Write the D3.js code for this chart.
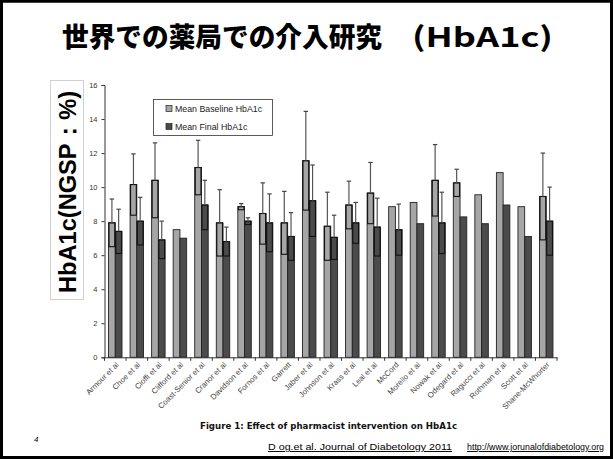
<!DOCTYPE html>
<html><head><meta charset="utf-8">
<script src="https://cdn.jsdelivr.net/npm/d3@7/dist/d3.min.js"></script>
<style>html,body{margin:0;padding:0;background:#fff;}svg{display:block;}</style>
</head><body>
<svg id="c" width="613" height="459"></svg>
<script>
const categories = ["Armour et al","Choe et al","Cioffi et al","Clifford et al","Coast-Senior et al","Cranor et al","Davidson et al","Fornos et al","Garrett","Jaber et al","Johnson et al","Krass et al","Leal et al","McCord","Morello et al","Nowak et al","Odegard et al","Ragucci et al","Rothman et al","Scott et al","Shane-McWhorter"];
const baseline   = [7.9,10.15,10.4,7.5,11.15,7.9,8.85,8.45,7.9,11.55,7.7,8.95,9.65,8.85,9.1,10.4,10.25,9.55,10.85,8.85,9.45];
const baselineSD = [1.4,1.8,2.2,null,1.6,1.95,0.18,1.8,1.85,2.9,2.0,1.4,1.8,null,null,2.1,0.8,null,null,null,2.55];
const finalV     = [7.4,8.0,6.9,7.0,8.95,6.8,8.0,7.9,7.1,9.2,7.05,7.9,7.65,7.5,7.85,7.9,8.25,7.85,8.95,7.1,8.0];
const finalSD    = [1.3,1.4,1.1,null,1.45,0.85,0.2,1.7,1.4,2.1,1.3,1.2,1.7,1.5,null,1.8,null,null,null,null,2.0];
const seriesNames = ["Mean Baseline HbA1c","Mean Final HbA1c"];
const yTicks = [0,2,4,6,8,10,12,14,16];

const svg = d3.select("#c");
svg.append("rect").attr("x",1.5).attr("y",1).attr("width",610).attr("height",456.5)
  .attr("fill","#fff").attr("stroke","#000").attr("stroke-width",3);

// Title
svg.append("text").attr("x",62).attr("y",47).attr("font-family","'Noto Sans CJK JP'").attr("font-weight","900")
  .attr("font-size",27).attr("textLength",320).attr("lengthAdjust","spacingAndGlyphs").text("世界での薬局での介入研究");
svg.append("text").attr("x",412).attr("y",47).attr("font-family","'Noto Sans CJK JP'").attr("font-weight","bold")
  .attr("font-size",27).attr("textLength",141).attr("lengthAdjust","spacingAndGlyphs").text("(HbA1c)");

// Y label box
svg.append("rect").attr("x",50.5).attr("y",80.5).attr("width",33).attr("height",219).attr("fill","#fff").attr("stroke","#d0d0d0");
svg.append("text").attr("transform","translate(76,192) rotate(-90)").attr("text-anchor","middle")
  .attr("font-family","'Liberation Sans',Arial").attr("font-weight","bold").attr("font-size",23)
  .attr("textLength",202).attr("lengthAdjust","spacingAndGlyphs").text("HbA1c(NGSP：%)");

const x = d3.scaleBand().domain(categories).range([104.5,557]).padding(0);
const inner = d3.scaleBand().domain(seriesNames).range([0,x.bandwidth()]).paddingOuter(0.6).paddingInner(0);
const y = d3.scaleLinear().domain([0,16]).range([357.3,85]);
const fills = ["#a6a6a6","#4b4b4b"];

const g = svg.append("g");
// Y axis
const ya = g.append("g").attr("transform","translate(104.5,0)")
  .call(d3.axisLeft(y).tickValues(yTicks).tickSize(3).tickPadding(4));
ya.select(".domain").attr("stroke","#333");
ya.selectAll(".tick line").attr("stroke","#333");
ya.selectAll("text").attr("font-family","'Liberation Sans',Arial").attr("font-size",7.5).attr("fill","#333");

// Bars
const data = categories.map((c,i)=>[
  {c, s:seriesNames[0], v:baseline[i], sd:baselineSD[i], k:0},
  {c, s:seriesNames[1], v:finalV[i], sd:finalSD[i], k:1}
]).flat();

g.selectAll("rect.bar").data(data).join("rect").attr("class","bar")
  .attr("x",d=>x(d.c)+inner(d.s)).attr("width",inner.bandwidth())
  .attr("y",d=>y(d.v)).attr("height",d=>y(0)-y(d.v))
  .attr("fill",d=>fills[d.k]).attr("stroke","#222").attr("stroke-width",0.9);

const eb = data.filter(d=>d.sd!=null);
g.selectAll("rect.err").data(eb).join("rect").attr("class","err")
  .attr("x",d=>x(d.c)+inner(d.s)+0.5).attr("width",inner.bandwidth()-1)
  .attr("y",d=>y(d.v)).attr("height",d=>y(d.v-d.sd)-y(d.v))
  .attr("fill","none").attr("stroke","#111").attr("stroke-width",1.1);
g.selectAll("line.err").data(eb).join("line").attr("class","err")
  .attr("x1",d=>x(d.c)+inner(d.s)+inner.bandwidth()/2).attr("x2",d=>x(d.c)+inner(d.s)+inner.bandwidth()/2)
  .attr("y1",d=>y(d.v)).attr("y2",d=>y(d.v+d.sd)).attr("stroke","#555").attr("stroke-width",1.2);
g.selectAll("line.cap").data(eb).join("line").attr("class","cap")
  .attr("x1",d=>x(d.c)+inner(d.s)+inner.bandwidth()/2-2.2).attr("x2",d=>x(d.c)+inner(d.s)+inner.bandwidth()/2+2.2)
  .attr("y1",d=>y(d.v+d.sd)).attr("y2",d=>y(d.v+d.sd)).attr("stroke","#444").attr("stroke-width",1.2);

// X axis
const xa = g.append("g").attr("transform",`translate(0,${y(0)})`)
  .call(d3.axisBottom(x).tickSize(0).tickPadding(0));
xa.select(".domain").attr("stroke","#333");
xa.selectAll("text").attr("font-family","'Liberation Sans',Arial").attr("font-size",7.8).attr("fill","#444")
  .attr("text-anchor","end").attr("transform","translate(2,6) rotate(-45)").attr("dy","0.35em");
const bounds = categories.map(c=>x(c)).concat([x.range()[1]]);
g.selectAll("line.xt").data(bounds).join("line").attr("class","xt")
  .attr("x1",d=>d).attr("x2",d=>d).attr("y1",y(0)).attr("y2",y(0)+3.5).attr("stroke","#333");

// Legend
const lg = svg.append("g");
lg.append("rect").attr("x",153.5).attr("y",99.5).attr("width",119).attr("height",36).attr("fill","#fff").attr("stroke","#333").attr("stroke-width",0.8);
seriesNames.forEach((s,i)=>{
  const yy = 108.5 + i*18;
  lg.append("rect").attr("x",166).attr("y",yy-3).attr("width",6).attr("height",6).attr("fill",fills[i]).attr("stroke","#222").attr("stroke-width",0.7);
  lg.append("text").attr("x",175).attr("y",yy).attr("dy","0.35em").attr("font-family","'Liberation Sans',Arial")
    .attr("font-size",8.8).attr("fill","#222").text(s);
});

// Caption & footers
svg.append("text").attr("x",200).attr("y",429).attr("font-family","'DejaVu Sans',sans-serif").attr("font-weight","bold")
  .attr("font-size",8.8).attr("textLength",257).attr("lengthAdjust","spacingAndGlyphs").attr("fill","#111")
  .text("Figure 1: Effect of pharmacist intervention on HbA1c");
svg.append("text").attr("x",34).attr("y",442).attr("font-family","'Liberation Sans',Arial").attr("font-style","italic")
  .attr("font-size",8).text("4");
svg.append("text").attr("x",268).attr("y",450).attr("font-family","'Liberation Sans',Arial")
  .attr("font-size",9.5).attr("text-decoration","underline").attr("textLength",184).attr("lengthAdjust","spacingAndGlyphs")
  .text("D og.et al. Journal of Diabetology 2011");
svg.append("text").attr("x",467).attr("y",450).attr("font-family","'Liberation Sans',Arial")
  .attr("font-size",9.5).attr("text-decoration","underline").attr("textLength",137).attr("lengthAdjust","spacingAndGlyphs")
  .text("http://www.jorunalofdiabetology.org");
svg.append("rect").attr("x",1.5).attr("y",1).attr("width",610).attr("height",456.5)
  .attr("fill","none").attr("stroke","#000").attr("stroke-width",3);
</script>
</body></html>
